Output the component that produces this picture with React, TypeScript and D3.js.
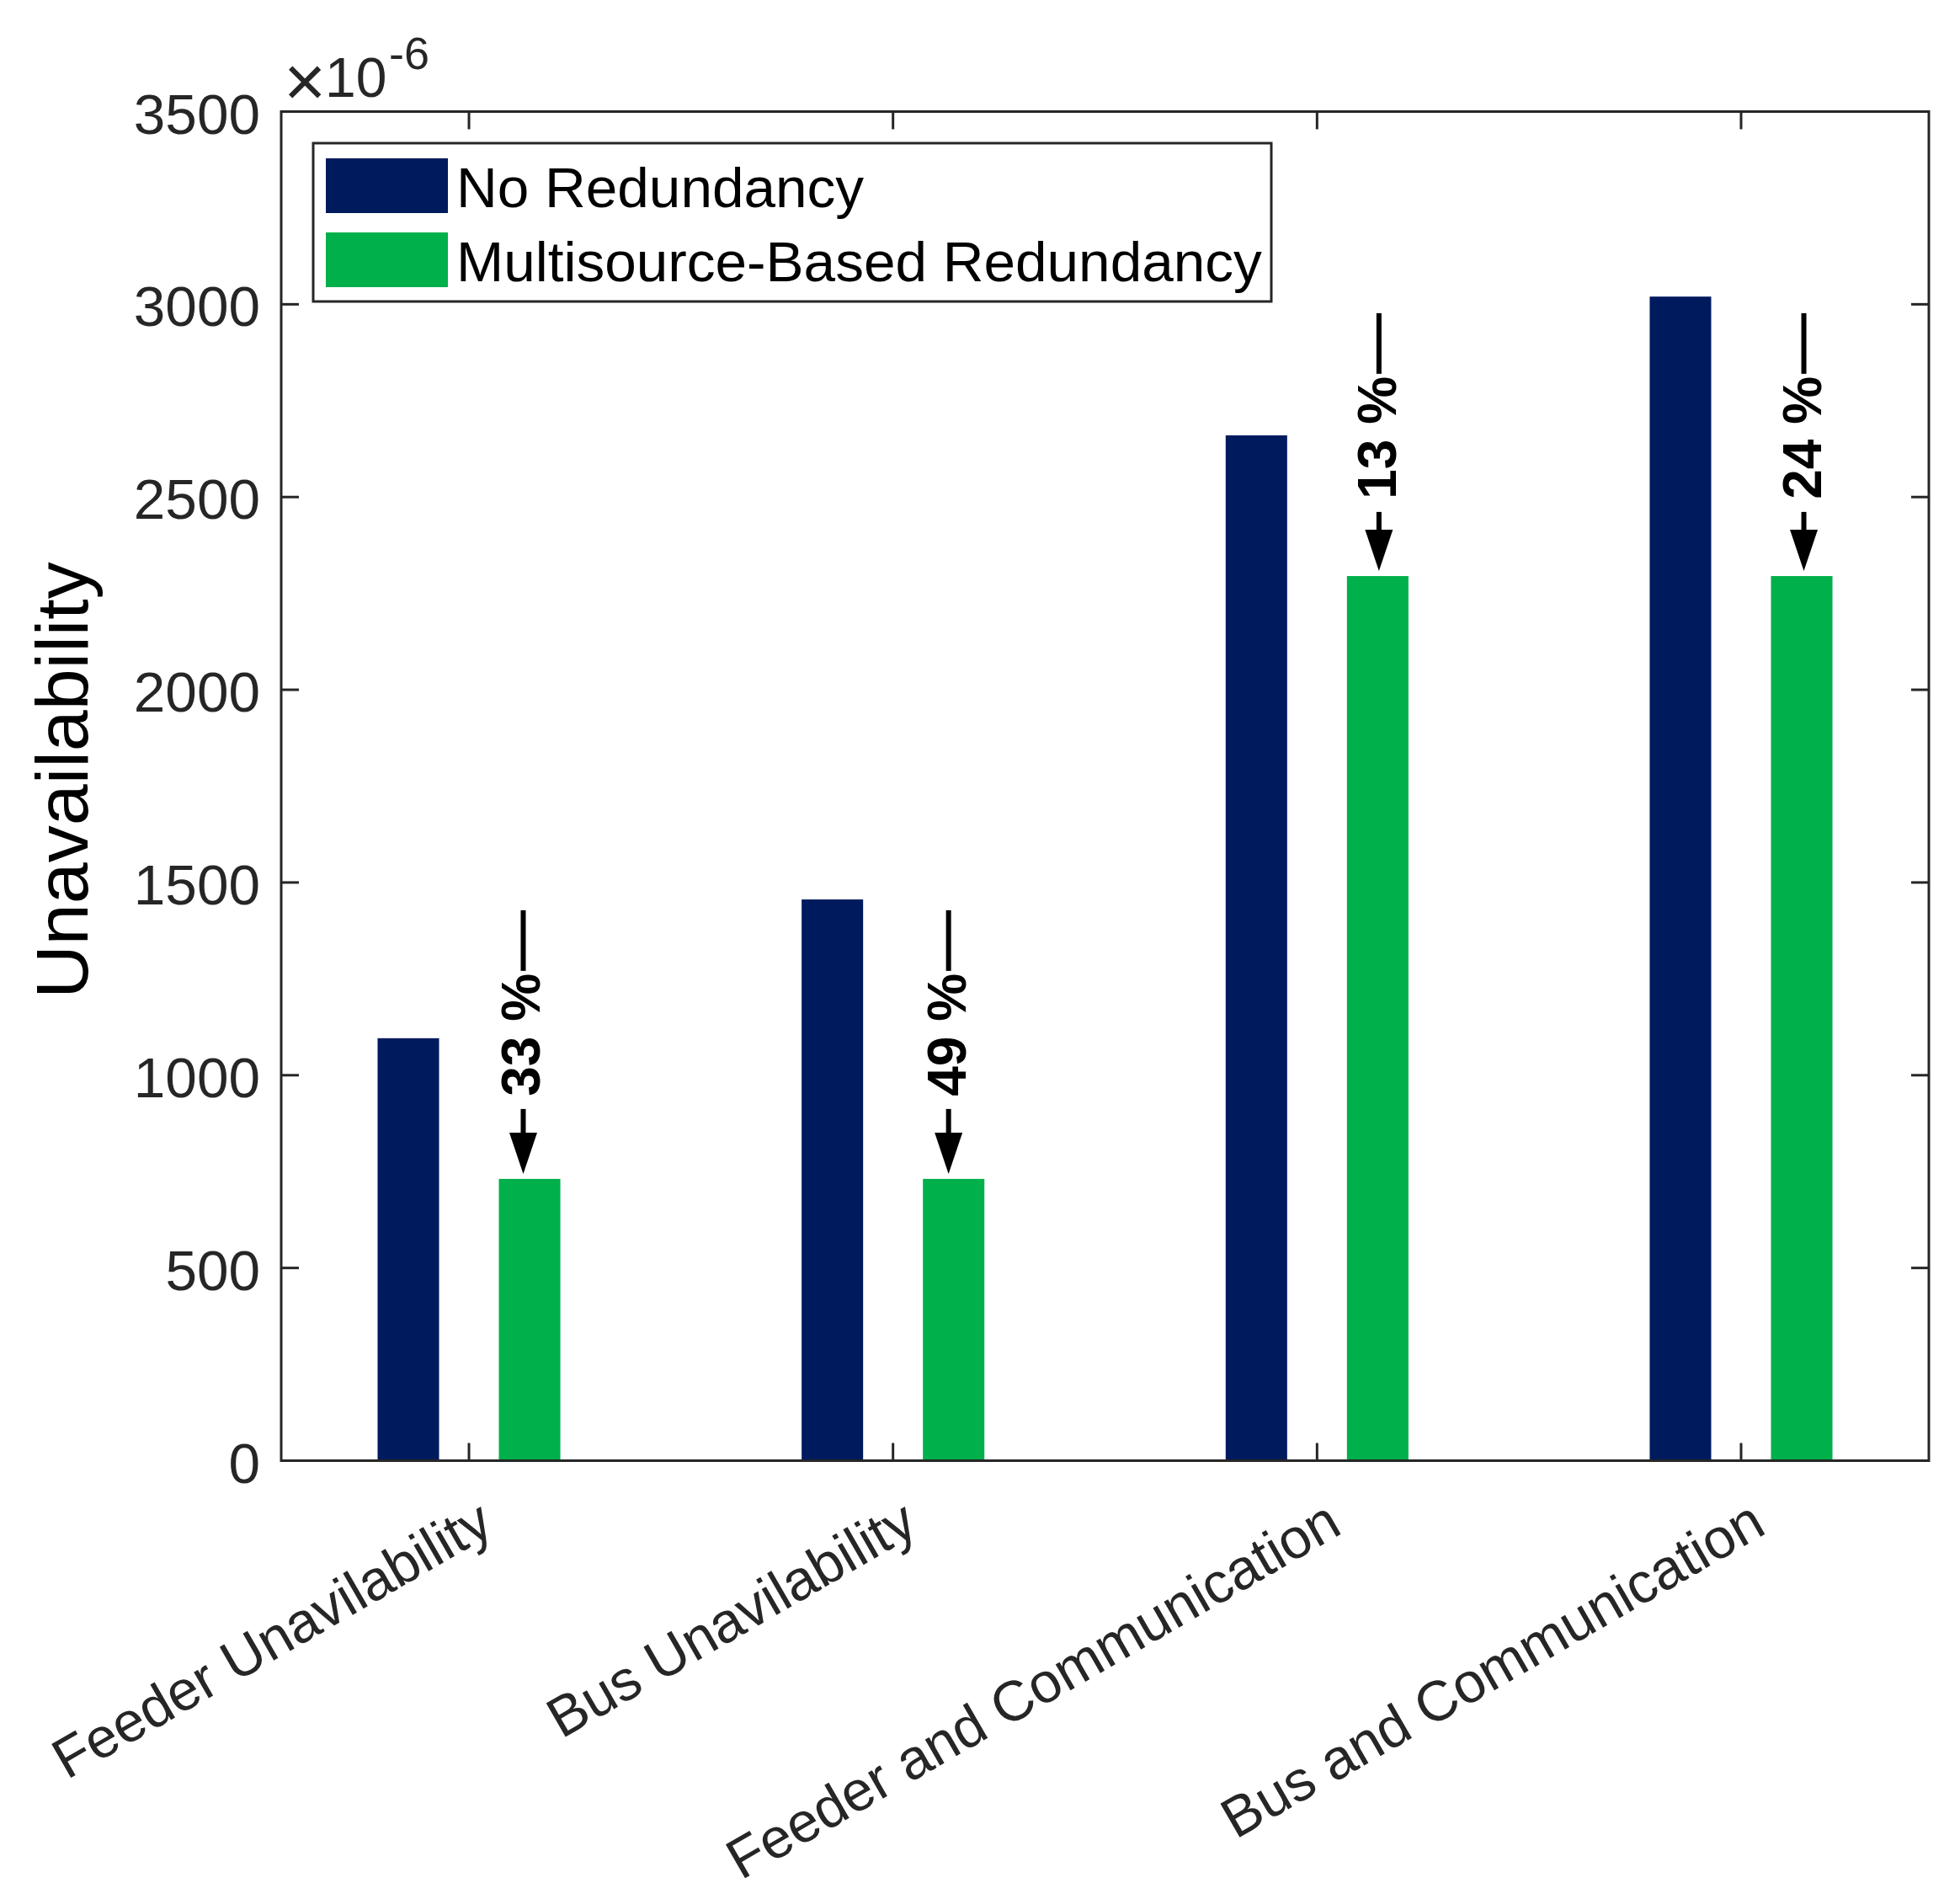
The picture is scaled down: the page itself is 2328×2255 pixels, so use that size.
import React from "react";
import * as d3 from "d3";

const categories = [
  "Feeder Unavilability",
  "Bus Unavilability",
  "Feeder and Communication",
  "Bus and Communication",
];
const noRedundancy = [1096, 1456, 2660, 3020];
const multisource = [731, 731, 2295, 2295];
const seriesNames = ["No Redundancy", "Multisource-Based Redundancy"];
const seriesColors = ["#001A5E", "#00B04A"];
const yTicks = [0, 500, 1000, 1500, 2000, 2500, 3000, 3500];
const annoLabels = ["33 %", "49 %", "13 %", "24 %"];
const annoX = [1.128, 2.131, 3.146, 4.148];
const annoTail = [1428, 1428, 2977, 2977];

const W = 2328;
const H = 2255;
const L = 334, R = 2291, T = 132.5, B = 1734.5;
const FONT = "'Liberation Sans', Arial, Helvetica, sans-serif";
const AX = "#262626";

export default function App() {
  const x = d3.scaleLinear().domain([0.5572, 4.4428]).range([L, R]);
  const y = d3.scaleLinear().domain([0, 3500]).range([B, T]);
  const barW = x(0.145) - x(0);
  const offsets = [-0.143, 0.143];
  const series = [noRedundancy, multisource];
  const tickLen = 21;

  return (
    <svg
      width={W}
      height={H}
      viewBox={`0 0 ${W} ${H}`}
      style={{ position: "absolute", left: 0, top: 0, background: "#fff" }}
      fontFamily={FONT}
    >
      <rect x={0} y={0} width={W} height={H} fill="#fff" />
      {/* bars */}
      {series.map((vals, s) =>
        vals.map((v, i) => (
          <rect
            key={`b${s}-${i}`}
            x={x(i + 1 + offsets[s]) - barW / 2}
            y={y(v)}
            width={barW}
            height={y(0) - y(v)}
            fill={seriesColors[s]}
          />
        ))
      )}
      {/* axes box */}
      <g stroke={AX} strokeWidth={3} fill="none">
        <rect x={L} y={T} width={R - L} height={B - T} />
        {yTicks.map((t) => (
          <g key={`yt${t}`}>
            <line x1={L} x2={L + tickLen} y1={y(t)} y2={y(t)} />
            <line x1={R} x2={R - tickLen} y1={y(t)} y2={y(t)} />
          </g>
        ))}
        {categories.map((c, i) => (
          <g key={`xt${i}`}>
            <line x1={x(i + 1)} x2={x(i + 1)} y1={B} y2={B - tickLen} />
            <line x1={x(i + 1)} x2={x(i + 1)} y1={T} y2={T + tickLen} />
          </g>
        ))}
      </g>
      {/* y tick labels */}
      {yTicks.map((t) => (
        <text
          key={`yl${t}`}
          x={309}
          y={y(t) + 26}
          textAnchor="end"
          fontSize={67.5}
          fill={AX}
        >
          {t}
        </text>
      ))}
      {/* exponent */}
      <text x={337} y={126} fontSize={86} fill={AX}>
        ×
      </text>
      <text x={386} y={115} fontSize={66} fill={AX}>
        10
      </text>
      <text x={462} y={82} fontSize={54} fill={AX}>
        -6
      </text>
      {/* x tick labels */}
      {categories.map((c, i) => (
        <text
          key={`xl${i}`}
          transform={`translate(${x(i + 1) + 32},${B + 85}) rotate(-30)`}
          textAnchor="end"
          fontSize={67}
          fill={AX}
        >
          {c}
        </text>
      ))}
      {/* y label */}
      <text
        transform={`translate(104,${(T + B) / 2 - 7}) rotate(-90)`}
        textAnchor="middle"
        fontSize={88}
        fill="#000"
      >
        Unavailability
      </text>
      {/* legend */}
      <rect x={372} y={170} width={1138} height={188} fill="#fff" stroke={AX} strokeWidth={3} />
      {seriesNames.map((n, s) => (
        <g key={`lg${s}`}>
          <rect x={387} y={188 + s * 88} width={145} height={65} fill={seriesColors[s]} />
          <text x={542} y={188 + s * 88 + 32.5 + 25} fontSize={67.5} fill="#000">
            {n}
          </text>
        </g>
      ))}
      {/* annotations */}
      {annoLabels.map((lab, i) => {
        const ax = x(annoX[i]);
        const ty = y(annoTail[i]);
        const py = y(multisource[i]) - 6;
        return (
          <g key={`an${i}`}>
            <line x1={ax} x2={ax} y1={ty} y2={ty + 72} stroke="#000" strokeWidth={6} />
            <line x1={ax} x2={ax} y1={ty + 236} y2={py - 48} stroke="#000" strokeWidth={6} />
            <polygon
              points={`${ax - 16.5},${py - 49} ${ax + 16.5},${py - 49} ${ax},${py}`}
              fill="#000"
            />
            <text
              transform={`translate(${ax + 20},${ty + 75}) rotate(-90)`}
              textAnchor="end"
              fontSize={64}
              fontWeight="bold"
              fill="#000"
            >
              {lab}
            </text>
          </g>
        );
      })}
    </svg>
  );
}
